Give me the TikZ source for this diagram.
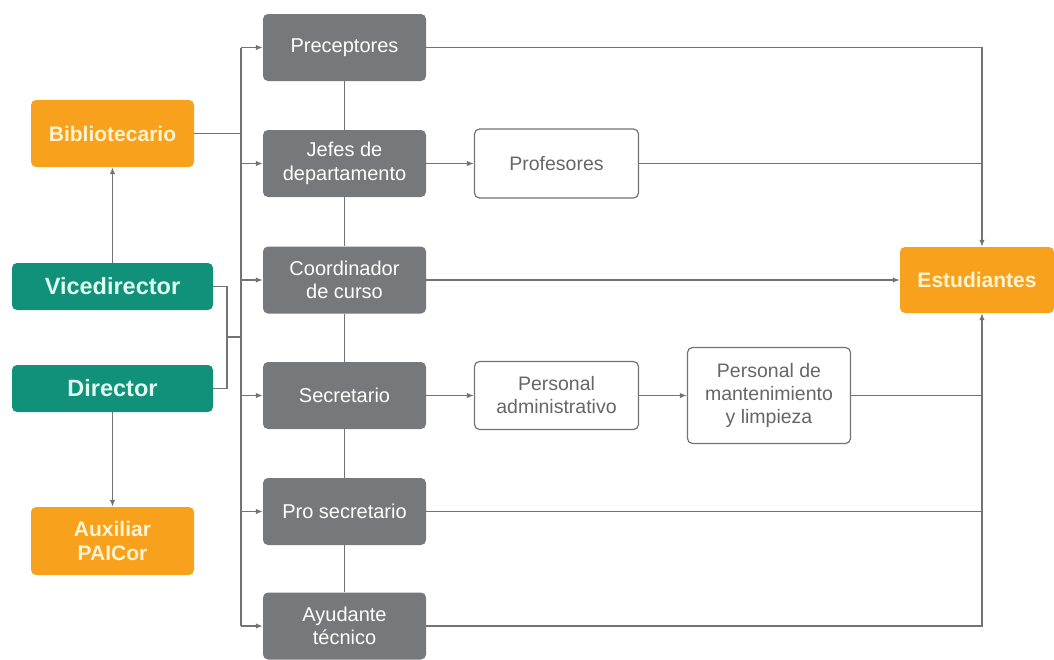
\documentclass[tikz,border=0pt]{standalone}
\usepackage{fontspec}
\setmainfont{Liberation Sans}
\usetikzlibrary{arrows.meta}
\definecolor{naranja}{HTML}{F8A11C}
\definecolor{verde}{HTML}{11917A}
\definecolor{gris}{HTML}{77787B}
\definecolor{linea}{HTML}{737373}
\definecolor{crema}{HTML}{FFF3D0}
\definecolor{menta}{HTML}{DDFBEF}
\definecolor{textogris}{HTML}{666666}
\tikzset{
  caja/.style={rounded corners=5pt,minimum width=163pt,minimum height=67pt,
    align=center,inner sep=0pt},
  cargo/.style={caja,fill=gris,text=white,font=\fontsize{20}{23.5}\selectfont},
  directivo/.style={caja,fill=verde,text=menta,minimum width=201pt,
    minimum height=47pt,font=\bfseries\fontsize{23.5}{26}\selectfont},
  apoyo/.style={caja,fill=naranja,text=crema,
    font=\bfseries\fontsize{21}{24}\selectfont},
  personal/.style={caja,draw=linea,line width=1.2pt,fill=white,text=textogris,
    font=\fontsize{19.5}{23}\selectfont},
  conector/.style={draw=linea,line width=1.3pt},
  flecha/.style={conector,-{Latex[length=7pt,width=5.5pt]}},
}
\begin{document}
\begin{tikzpicture}[x=1pt,y=-1pt]
  \useasboundingbox (0,0) rectangle (1054,659);
  % directivos y apoyo
  \node[apoyo] (biblio) at (112.5,133.5) {Bibliotecario};
  \node[directivo] (vice) at (112.5,286.5) {Vicedirector};
  \node[directivo] (dir) at (112.5,388.5) {Director};
  \node[apoyo,minimum height=68pt] (aux) at (112.5,541) {Auxiliar\\PAICor};
  % cargos
  \foreach \nombre/\altura/\texto in {prec/47.5/Preceptores,
      jefes/163.5/{Jefes de\\departamento},coord/280/{Coordinador\\de curso},
      secre/395.5/Secretario,prosec/511.5/Pro secretario,
      ayud/626/{Ayudante\\técnico}}{
    \node[cargo] (\nombre) at (344.5,\altura) {\texto};
  }
  \foreach \arriba/\abajo in {prec/jefes,jefes/coord,coord/secre,
      secre/prosec,prosec/ayud}{
    \draw[conector] (\arriba.south) -- (\abajo.north);
  }
  % personal
  \node[personal,minimum width=164pt,minimum height=69pt] (prof) at (556.5,163.5) {Profesores};
  \node[personal,minimum width=164pt,minimum height=68pt] (admin) at (556.5,395.5) {Personal\\administrativo};
  \node[personal,minimum width=163pt,minimum height=96pt] (mant) at (769,395.5)
    {Personal de\\mantenimiento\\y limpieza};
  \node[apoyo,minimum width=154pt,minimum height=66pt] (est) at (977,280) {Estudiantes};
  % buses
  \coordinate (bus) at (241,0);
  \coordinate (busder) at (982,0);
  \coordinate (union) at (227,337);
  \draw[conector] (prec.west -| bus) -- (ayud.west -| bus);
  \foreach \nombre in {prec,jefes,coord,secre,prosec,ayud}{
    \draw[flecha] (\nombre.west -| bus) -- (\nombre.west);
  }
  \draw[conector] (biblio.east) -- (biblio.east -| bus);
  \draw[conector] (vice.east) -- (vice.east -| union) -- (dir.east -| union) -- (dir.east);
  \draw[conector] (union) -- (union -| bus);
  \draw[flecha] (vice.north) -- (biblio.south);
  \draw[flecha] (dir.south) -- (aux.north);
  % hacia estudiantes
  \draw[flecha] (jefes.east) -- (prof.west);
  \draw[flecha] (secre.east) -- (admin.west);
  \draw[flecha] (admin.east) -- (mant.west);
  \draw[flecha] (prec.east) -| (est.north -| busder);
  \draw[conector] (prof.east) -- (prof.east -| busder);
  \draw[flecha] (coord.east) -- (est.west);
  \draw[conector] (mant.east) -- (mant.east -| busder);
  \draw[conector] (prosec.east) -- (prosec.east -| busder);
  \draw[flecha] (ayud.east) -| (est.south -| busder);
\end{tikzpicture}
\end{document}
